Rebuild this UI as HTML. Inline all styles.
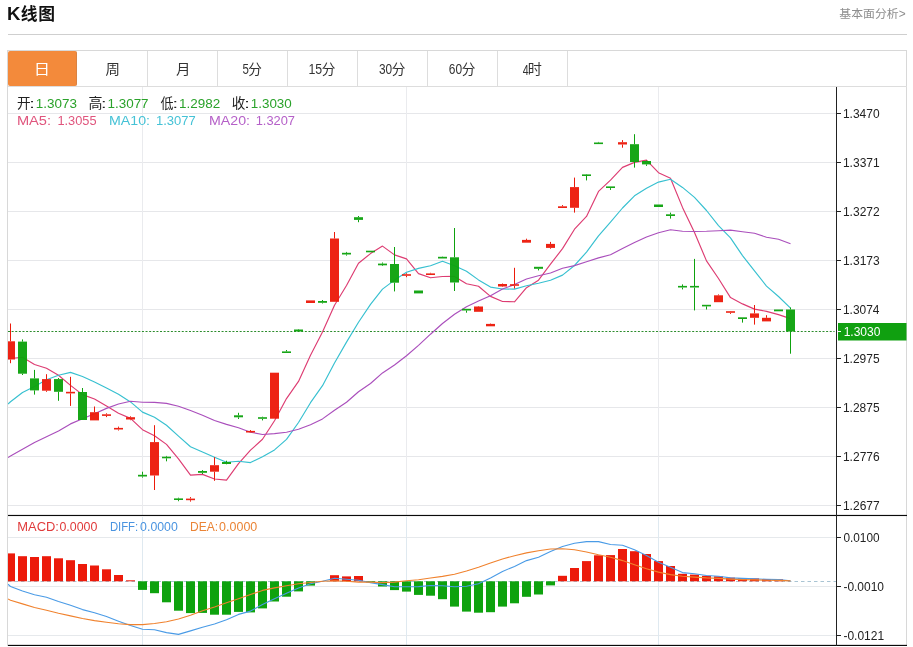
<!DOCTYPE html>
<html lang="zh-CN">
<head>
<meta charset="utf-8">
<title>K线图</title>
<style>
html,body{margin:0;padding:0;background:#fff;}
body{width:913px;height:647px;position:relative;overflow:hidden;font-family:"Liberation Sans","Noto Sans CJK SC",sans-serif;color:#222;}
.title{position:absolute;left:6.9px;top:1.1px;font-size:16.8px;line-height:26px;font-weight:bold;color:#111;letter-spacing:0.9px;white-space:nowrap;}
.title .k{font-size:18.6px;letter-spacing:0.3px;}
.more{position:absolute;right:7.3px;top:5.5px;font-size:11.9px;line-height:16px;color:#8e8e8e;}
.hr{position:absolute;left:8px;top:34px;width:899px;height:1px;background:#cfcfcf;}
.box{position:absolute;left:7px;top:50px;width:898px;height:595px;border:1px solid #d8d8d8;border-bottom:none;box-sizing:content-box;}
ul.tabs{list-style:none;margin:0;padding:0;position:absolute;left:8px;top:51px;height:35px;width:899px;}
ul.tabs li{float:left;width:69px;height:35px;border-right:1px solid #ddd;line-height:37px;text-align:center;font-size:14px;color:#333;}
ul.tabs li.on{background:#f38a3b;color:#fff;border-radius:2px;width:68px;border-right:1px solid #d98343;margin-right:1px;}
.tabline{position:absolute;left:8px;top:86px;width:899px;height:1px;background:#ddd;}
</style>
</head>
<body>
<div class="title"><span class="k">K</span>线图</div>
<div class="more">基本面分析&gt;</div>
<div class="hr"></div>
<div class="box"></div>
<ul class="tabs"><li class="on"></li><li></li><li></li><li></li><li></li><li></li><li></li><li></li></ul>
<div class="tabline"></div>
<svg width="913" height="647" viewBox="0 0 913 647" style="position:absolute;left:0;top:0" font-family="'Liberation Sans', 'Noto Sans CJK SC', sans-serif">
<defs><clipPath id="cp"><rect x="8" y="87" width="828" height="559"/></clipPath></defs>
<rect x="8" y="113" width="828" height="1" fill="#e6e7ea"/>
<rect x="8" y="162" width="828" height="1" fill="#e6e7ea"/>
<rect x="8" y="211" width="828" height="1" fill="#e6e7ea"/>
<rect x="8" y="260" width="828" height="1" fill="#e6e7ea"/>
<rect x="8" y="309" width="828" height="1" fill="#e6e7ea"/>
<rect x="8" y="358" width="828" height="1" fill="#e6e7ea"/>
<rect x="8" y="407" width="828" height="1" fill="#e6e7ea"/>
<rect x="8" y="456" width="828" height="1" fill="#e6e7ea"/>
<rect x="8" y="505" width="828" height="1" fill="#e6e7ea"/>
<rect x="8" y="537" width="828" height="1" fill="#e6e9ec"/>
<rect x="8" y="586" width="828" height="1" fill="#e6e9ec"/>
<rect x="8" y="635" width="828" height="1" fill="#e6e9ec"/>
<rect x="142" y="87" width="1" height="428" fill="#eaebee"/>
<rect x="142" y="517" width="1" height="128" fill="#dfe9f0"/>
<rect x="406" y="87" width="1" height="428" fill="#eaebee"/>
<rect x="406" y="517" width="1" height="128" fill="#dfe9f0"/>
<rect x="658" y="87" width="1" height="428" fill="#eaebee"/>
<rect x="658" y="517" width="1" height="128" fill="#dfe9f0"/>
<g clip-path="url(#cp)">
<line x1="8" y1="581.5" x2="836" y2="581.5" stroke="#a9c4d3" stroke-width="1" stroke-dasharray="3.5 3"/>
<rect x="6.0" y="553.4" width="9" height="27.9" fill="#ec1a0a"/>
<rect x="18.0" y="556.2" width="9" height="25.1" fill="#ec1a0a"/>
<rect x="30.0" y="557.0" width="9" height="24.3" fill="#ec1a0a"/>
<rect x="42.0" y="556.2" width="9" height="25.1" fill="#ec1a0a"/>
<rect x="54.0" y="558.3" width="9" height="23.0" fill="#ec1a0a"/>
<rect x="66.0" y="560.2" width="9" height="21.1" fill="#ec1a0a"/>
<rect x="78.0" y="564.0" width="9" height="17.3" fill="#ec1a0a"/>
<rect x="90.0" y="565.5" width="9" height="15.8" fill="#ec1a0a"/>
<rect x="102.0" y="569.3" width="9" height="12.0" fill="#ec1a0a"/>
<rect x="114.0" y="575.0" width="9" height="6.3" fill="#ec1a0a"/>
<rect x="126.0" y="580.3" width="9" height="1.0" fill="#ec1a0a"/>
<rect x="138.0" y="581.3" width="9" height="8.6" fill="#0ea20e"/>
<rect x="150.0" y="581.3" width="9" height="11.9" fill="#0ea20e"/>
<rect x="162.0" y="581.3" width="9" height="21.0" fill="#0ea20e"/>
<rect x="174.0" y="581.3" width="9" height="29.4" fill="#0ea20e"/>
<rect x="186.0" y="581.3" width="9" height="31.8" fill="#0ea20e"/>
<rect x="198.0" y="581.3" width="9" height="31.6" fill="#0ea20e"/>
<rect x="210.0" y="581.3" width="9" height="33.4" fill="#0ea20e"/>
<rect x="222.0" y="581.3" width="9" height="33.4" fill="#0ea20e"/>
<rect x="234.0" y="581.3" width="9" height="30.6" fill="#0ea20e"/>
<rect x="246.0" y="581.3" width="9" height="31.1" fill="#0ea20e"/>
<rect x="258.0" y="581.3" width="9" height="27.1" fill="#0ea20e"/>
<rect x="270.0" y="581.3" width="9" height="20.2" fill="#0ea20e"/>
<rect x="282.0" y="581.3" width="9" height="15.4" fill="#0ea20e"/>
<rect x="294.0" y="581.3" width="9" height="10.1" fill="#0ea20e"/>
<rect x="306.0" y="581.3" width="9" height="4.3" fill="#0ea20e"/>
<rect x="330.0" y="575.2" width="9" height="6.1" fill="#ec1a0a"/>
<rect x="342.0" y="576.4" width="9" height="4.9" fill="#ec1a0a"/>
<rect x="354.0" y="576.0" width="9" height="5.3" fill="#ec1a0a"/>
<rect x="366.0" y="581.3" width="9" height="1.0" fill="#0ea20e"/>
<rect x="378.0" y="581.3" width="9" height="5.2" fill="#0ea20e"/>
<rect x="390.0" y="581.3" width="9" height="8.8" fill="#0ea20e"/>
<rect x="402.0" y="581.3" width="9" height="10.3" fill="#0ea20e"/>
<rect x="414.0" y="581.3" width="9" height="13.6" fill="#0ea20e"/>
<rect x="426.0" y="581.3" width="9" height="14.4" fill="#0ea20e"/>
<rect x="438.0" y="581.3" width="9" height="17.9" fill="#0ea20e"/>
<rect x="450.0" y="581.3" width="9" height="25.3" fill="#0ea20e"/>
<rect x="462.0" y="581.3" width="9" height="30.3" fill="#0ea20e"/>
<rect x="474.0" y="581.3" width="9" height="31.4" fill="#0ea20e"/>
<rect x="486.0" y="581.3" width="9" height="30.9" fill="#0ea20e"/>
<rect x="498.0" y="581.3" width="9" height="25.3" fill="#0ea20e"/>
<rect x="510.0" y="581.3" width="9" height="22.0" fill="#0ea20e"/>
<rect x="522.0" y="581.3" width="9" height="15.5" fill="#0ea20e"/>
<rect x="534.0" y="581.3" width="9" height="13.2" fill="#0ea20e"/>
<rect x="546.0" y="581.3" width="9" height="4.1" fill="#0ea20e"/>
<rect x="558.0" y="575.8" width="9" height="5.5" fill="#ec1a0a"/>
<rect x="570.0" y="568.0" width="9" height="13.3" fill="#ec1a0a"/>
<rect x="582.0" y="561.1" width="9" height="20.2" fill="#ec1a0a"/>
<rect x="594.0" y="555.3" width="9" height="26.0" fill="#ec1a0a"/>
<rect x="606.0" y="555.1" width="9" height="26.2" fill="#ec1a0a"/>
<rect x="618.0" y="549.0" width="9" height="32.3" fill="#ec1a0a"/>
<rect x="630.0" y="551.2" width="9" height="30.1" fill="#ec1a0a"/>
<rect x="642.0" y="554.0" width="9" height="27.3" fill="#ec1a0a"/>
<rect x="654.0" y="561.1" width="9" height="20.2" fill="#ec1a0a"/>
<rect x="666.0" y="566.0" width="9" height="15.3" fill="#ec1a0a"/>
<rect x="678.0" y="573.8" width="9" height="7.5" fill="#ec1a0a"/>
<rect x="690.0" y="574.6" width="9" height="6.7" fill="#ec1a0a"/>
<rect x="702.0" y="575.8" width="9" height="5.5" fill="#ec1a0a"/>
<rect x="714.0" y="576.3" width="9" height="5.0" fill="#ec1a0a"/>
<rect x="726.0" y="577.6" width="9" height="3.7" fill="#ec1a0a"/>
<rect x="738.0" y="578.3" width="9" height="3.0" fill="#ec1a0a"/>
<rect x="750.0" y="578.4" width="9" height="2.9" fill="#ec1a0a"/>
<rect x="762.0" y="579.1" width="9" height="2.2" fill="#ec1a0a"/>
<rect x="774.0" y="579.3" width="9" height="2.0" fill="#ec1a0a"/>
<line x1="8" y1="331.5" x2="834.6" y2="331.5" stroke="#2c8c2c" stroke-width="1" stroke-dasharray="2 1.62"/>
<polyline fill="none" stroke="#dd3c72" stroke-width="1.15" stroke-linejoin="round" points="8.0,358.7 10.5,358.5 22.5,357.3 34.5,364.5 46.5,368.2 58.5,375.3 70.5,385.4 82.5,394.6 94.5,399.0 106.5,406.1 118.5,413.3 130.5,418.4 142.5,429.7 154.5,435.7 166.5,444.4 178.5,458.8 190.5,475.1 202.5,474.4 214.5,479.0 226.5,480.1 238.5,463.6 250.5,450.1 262.5,439.3 274.5,420.8 286.5,398.6 298.5,381.4 310.5,355.3 322.5,332.1 334.5,305.2 346.5,285.5 358.5,263.2 370.5,253.6 382.5,246.1 394.5,254.9 406.5,258.9 418.5,273.6 430.5,277.8 442.5,276.5 454.5,276.4 466.5,283.7 478.5,286.3 490.5,296.4 502.5,301.5 514.5,301.8 526.5,287.7 538.5,280.2 550.5,264.2 562.5,248.6 574.5,229.2 586.5,216.4 598.5,191.4 610.5,180.2 622.5,167.4 634.5,162.4 646.5,160.1 658.5,172.7 670.5,178.3 682.5,207.4 694.5,232.5 706.5,260.9 718.5,278.5 730.5,297.6 742.5,303.9 754.5,309.1 766.5,311.4 778.5,314.6 790.5,318.6"/>
<polyline fill="none" stroke="#37c0d0" stroke-width="1.15" stroke-linejoin="round" points="8.0,404.0 10.5,401.8 22.5,392.5 34.5,386.4 46.5,379.8 58.5,375.2 70.5,372.4 82.5,376.5 94.5,382.0 106.5,388.0 118.5,394.3 130.5,401.9 142.5,412.1 154.5,417.3 166.5,425.2 178.5,436.1 190.5,446.8 202.5,452.0 214.5,457.3 226.5,462.3 238.5,461.2 250.5,462.6 262.5,456.8 274.5,449.9 286.5,439.4 298.5,422.5 310.5,402.7 322.5,385.7 334.5,363.0 346.5,342.1 358.5,322.3 370.5,304.4 382.5,289.1 394.5,280.1 406.5,272.2 418.5,268.4 430.5,265.7 442.5,261.3 454.5,265.7 466.5,271.3 478.5,279.9 490.5,287.1 502.5,289.0 514.5,289.1 526.5,285.7 538.5,283.2 550.5,280.3 562.5,275.1 574.5,265.5 586.5,252.1 598.5,235.8 610.5,222.2 622.5,208.0 634.5,195.8 646.5,188.2 658.5,182.1 670.5,179.3 682.5,187.4 694.5,197.4 706.5,210.5 718.5,225.6 730.5,237.9 742.5,255.6 754.5,270.8 766.5,286.1 778.5,296.5 790.5,308.1"/>
<polyline fill="none" stroke="#aa4fbc" stroke-width="1.15" stroke-linejoin="round" points="8.0,457.6 10.5,456.0 22.5,449.3 34.5,442.5 46.5,436.8 58.5,431.0 70.5,423.9 82.5,418.7 94.5,413.7 106.5,408.4 118.5,404.0 130.5,401.3 142.5,402.2 154.5,402.4 166.5,403.4 178.5,406.3 190.5,410.5 202.5,415.2 214.5,420.5 226.5,424.4 238.5,427.7 250.5,432.2 262.5,434.5 274.5,433.6 286.5,432.3 298.5,429.3 310.5,424.7 322.5,418.9 334.5,410.2 346.5,402.2 358.5,391.8 370.5,383.5 382.5,372.9 394.5,365.0 406.5,355.8 418.5,345.4 430.5,334.2 442.5,323.5 454.5,314.3 466.5,306.7 478.5,301.1 490.5,295.8 502.5,289.0 514.5,284.6 526.5,279.0 538.5,275.8 550.5,273.0 562.5,268.2 574.5,265.6 586.5,261.7 598.5,257.9 610.5,254.7 622.5,248.5 634.5,242.5 646.5,237.0 658.5,232.7 670.5,229.8 682.5,231.2 694.5,231.5 706.5,231.3 718.5,230.7 730.5,230.1 742.5,231.8 754.5,233.3 766.5,237.2 778.5,239.3 790.5,243.7"/>
<rect x="10.0" y="323.5" width="1" height="17.8" fill="#ec1a0a"/>
<rect x="10.0" y="359.5" width="1" height="3.7" fill="#ec1a0a"/>
<rect x="6.0" y="341.3" width="9" height="18.2" fill="#ec1a0a" fill-opacity="0.96"/>
<rect x="22.0" y="339.4" width="1" height="2.2" fill="#0ea20e"/>
<rect x="22.0" y="373.7" width="1" height="1.3" fill="#0ea20e"/>
<rect x="18.0" y="341.6" width="9" height="32.1" fill="#0ea20e" fill-opacity="0.96"/>
<rect x="34.0" y="369.9" width="1" height="8.5" fill="#0ea20e"/>
<rect x="34.0" y="390.4" width="1" height="4.2" fill="#0ea20e"/>
<rect x="30.0" y="378.4" width="9" height="12.0" fill="#0ea20e" fill-opacity="0.96"/>
<rect x="46.0" y="374.2" width="1" height="4.9" fill="#ec1a0a"/>
<rect x="46.0" y="390.7" width="1" height="1.1" fill="#ec1a0a"/>
<rect x="42.0" y="379.1" width="9" height="11.6" fill="#ec1a0a" fill-opacity="0.96"/>
<rect x="58.0" y="378.0" width="1" height="1.1" fill="#0ea20e"/>
<rect x="58.0" y="391.8" width="1" height="9.0" fill="#0ea20e"/>
<rect x="54.0" y="379.1" width="9" height="12.7" fill="#0ea20e" fill-opacity="0.96"/>
<rect x="70.0" y="376.8" width="1" height="15.0" fill="#ec1a0a"/>
<rect x="70.0" y="393.4" width="1" height="12.5" fill="#ec1a0a"/>
<rect x="66.0" y="391.8" width="9" height="1.6" fill="#ec1a0a" fill-opacity="0.96"/>
<rect x="82.0" y="388.0" width="1" height="4.0" fill="#0ea20e"/>
<rect x="78.0" y="392.0" width="9" height="28.0" fill="#0ea20e" fill-opacity="0.96"/>
<rect x="94.0" y="406.5" width="1" height="5.7" fill="#ec1a0a"/>
<rect x="90.0" y="412.2" width="9" height="8.2" fill="#ec1a0a" fill-opacity="0.96"/>
<rect x="106.0" y="413.3" width="1" height="1.0" fill="#ec1a0a"/>
<rect x="106.0" y="415.9" width="1" height="1.2" fill="#ec1a0a"/>
<rect x="102.0" y="414.3" width="9" height="1.6" fill="#ec1a0a" fill-opacity="0.96"/>
<rect x="118.0" y="426.6" width="1" height="1.3" fill="#ec1a0a"/>
<rect x="118.0" y="429.6" width="1" height="0.9" fill="#ec1a0a"/>
<rect x="114.0" y="427.9" width="9" height="1.6" fill="#ec1a0a" fill-opacity="0.96"/>
<rect x="130.0" y="416.3" width="1" height="0.9" fill="#ec1a0a"/>
<rect x="130.0" y="419.5" width="1" height="0.7" fill="#ec1a0a"/>
<rect x="126.0" y="417.2" width="9" height="2.3" fill="#ec1a0a" fill-opacity="0.96"/>
<rect x="142.0" y="471.7" width="1" height="3.1" fill="#0ea20e"/>
<rect x="142.0" y="476.5" width="1" height="1.1" fill="#0ea20e"/>
<rect x="138.0" y="474.8" width="9" height="1.7" fill="#0ea20e" fill-opacity="0.96"/>
<rect x="154.0" y="425.2" width="1" height="16.9" fill="#ec1a0a"/>
<rect x="154.0" y="475.5" width="1" height="14.5" fill="#ec1a0a"/>
<rect x="150.0" y="442.1" width="9" height="33.4" fill="#ec1a0a" fill-opacity="0.96"/>
<rect x="166.0" y="455.9" width="1" height="0.8" fill="#0ea20e"/>
<rect x="166.0" y="458.3" width="1" height="3.0" fill="#0ea20e"/>
<rect x="162.0" y="456.7" width="9" height="1.6" fill="#0ea20e" fill-opacity="0.96"/>
<rect x="178.0" y="497.7" width="1" height="0.8" fill="#0ea20e"/>
<rect x="178.0" y="500.1" width="1" height="1.1" fill="#0ea20e"/>
<rect x="174.0" y="498.4" width="9" height="1.6" fill="#0ea20e" fill-opacity="0.96"/>
<rect x="190.0" y="497.1" width="1" height="1.4" fill="#ec1a0a"/>
<rect x="190.0" y="500.2" width="1" height="1.4" fill="#ec1a0a"/>
<rect x="186.0" y="498.6" width="9" height="1.6" fill="#ec1a0a" fill-opacity="0.96"/>
<rect x="202.0" y="470.1" width="1" height="0.9" fill="#0ea20e"/>
<rect x="202.0" y="472.8" width="1" height="1.2" fill="#0ea20e"/>
<rect x="198.0" y="471.0" width="9" height="1.8" fill="#0ea20e" fill-opacity="0.96"/>
<rect x="214.0" y="457.2" width="1" height="8.0" fill="#ec1a0a"/>
<rect x="214.0" y="471.7" width="1" height="9.1" fill="#ec1a0a"/>
<rect x="210.0" y="465.2" width="9" height="6.5" fill="#ec1a0a" fill-opacity="0.96"/>
<rect x="226.0" y="460.7" width="1" height="1.3" fill="#0ea20e"/>
<rect x="226.0" y="464.0" width="1" height="0.3" fill="#0ea20e"/>
<rect x="222.0" y="462.0" width="9" height="2.0" fill="#0ea20e" fill-opacity="0.96"/>
<rect x="238.0" y="412.8" width="1" height="2.5" fill="#0ea20e"/>
<rect x="238.0" y="417.3" width="1" height="1.7" fill="#0ea20e"/>
<rect x="234.0" y="415.3" width="9" height="2.0" fill="#0ea20e" fill-opacity="0.96"/>
<rect x="250.0" y="430.0" width="1" height="0.9" fill="#ec1a0a"/>
<rect x="246.0" y="430.9" width="9" height="1.6" fill="#ec1a0a" fill-opacity="0.96"/>
<rect x="262.0" y="416.7" width="1" height="0.6" fill="#0ea20e"/>
<rect x="262.0" y="418.9" width="1" height="1.5" fill="#0ea20e"/>
<rect x="258.0" y="417.2" width="9" height="1.6" fill="#0ea20e" fill-opacity="0.96"/>
<rect x="270.0" y="372.7" width="9" height="46.0" fill="#ec1a0a" fill-opacity="0.96"/>
<rect x="286.0" y="350.0" width="1" height="1.4" fill="#0ea20e"/>
<rect x="282.0" y="351.4" width="9" height="1.6" fill="#0ea20e" fill-opacity="0.96"/>
<rect x="298.0" y="329.0" width="1" height="0.5" fill="#0ea20e"/>
<rect x="298.0" y="331.5" width="1" height="0.5" fill="#0ea20e"/>
<rect x="294.0" y="329.5" width="9" height="2.0" fill="#0ea20e" fill-opacity="0.96"/>
<rect x="306.0" y="300.4" width="9" height="2.6" fill="#ec1a0a" fill-opacity="0.96"/>
<rect x="322.0" y="300.0" width="1" height="1.0" fill="#0ea20e"/>
<rect x="322.0" y="302.8" width="1" height="0.7" fill="#0ea20e"/>
<rect x="318.0" y="301.0" width="9" height="1.8" fill="#0ea20e" fill-opacity="0.96"/>
<rect x="334.0" y="232.0" width="1" height="6.5" fill="#ec1a0a"/>
<rect x="330.0" y="238.5" width="9" height="63.3" fill="#ec1a0a" fill-opacity="0.96"/>
<rect x="346.0" y="251.9" width="1" height="0.9" fill="#0ea20e"/>
<rect x="346.0" y="254.5" width="1" height="1.1" fill="#0ea20e"/>
<rect x="342.0" y="252.8" width="9" height="1.7" fill="#0ea20e" fill-opacity="0.96"/>
<rect x="358.0" y="216.0" width="1" height="1.2" fill="#0ea20e"/>
<rect x="358.0" y="219.9" width="1" height="2.3" fill="#0ea20e"/>
<rect x="354.0" y="217.2" width="9" height="2.7" fill="#0ea20e" fill-opacity="0.96"/>
<rect x="366.0" y="250.7" width="9" height="1.6" fill="#0ea20e" fill-opacity="0.96"/>
<rect x="382.0" y="262.5" width="1" height="1.1" fill="#0ea20e"/>
<rect x="382.0" y="265.3" width="1" height="0.7" fill="#0ea20e"/>
<rect x="378.0" y="263.6" width="9" height="1.7" fill="#0ea20e" fill-opacity="0.96"/>
<rect x="394.0" y="247.0" width="1" height="17.0" fill="#0ea20e"/>
<rect x="394.0" y="282.7" width="1" height="8.7" fill="#0ea20e"/>
<rect x="390.0" y="264.0" width="9" height="18.7" fill="#0ea20e" fill-opacity="0.96"/>
<rect x="406.0" y="273.3" width="1" height="0.9" fill="#ec1a0a"/>
<rect x="406.0" y="275.9" width="1" height="1.3" fill="#ec1a0a"/>
<rect x="402.0" y="274.2" width="9" height="1.6" fill="#ec1a0a" fill-opacity="0.96"/>
<rect x="414.0" y="290.5" width="9" height="2.9" fill="#0ea20e" fill-opacity="0.96"/>
<rect x="430.0" y="272.8" width="1" height="0.6" fill="#ec1a0a"/>
<rect x="426.0" y="273.4" width="9" height="1.6" fill="#ec1a0a" fill-opacity="0.96"/>
<rect x="442.0" y="256.5" width="1" height="0.3" fill="#0ea20e"/>
<rect x="438.0" y="256.8" width="9" height="1.7" fill="#0ea20e" fill-opacity="0.96"/>
<rect x="454.0" y="228.0" width="1" height="29.3" fill="#0ea20e"/>
<rect x="454.0" y="282.5" width="1" height="8.5" fill="#0ea20e"/>
<rect x="450.0" y="257.3" width="9" height="25.2" fill="#0ea20e" fill-opacity="0.96"/>
<rect x="466.0" y="310.5" width="1" height="2.2" fill="#0ea20e"/>
<rect x="462.0" y="308.8" width="9" height="1.7" fill="#0ea20e" fill-opacity="0.96"/>
<rect x="478.0" y="306.0" width="1" height="0.5" fill="#ec1a0a"/>
<rect x="474.0" y="306.5" width="9" height="5.3" fill="#ec1a0a" fill-opacity="0.96"/>
<rect x="490.0" y="323.5" width="1" height="0.4" fill="#ec1a0a"/>
<rect x="486.0" y="323.9" width="9" height="2.4" fill="#ec1a0a" fill-opacity="0.96"/>
<rect x="502.0" y="283.5" width="1" height="0.5" fill="#ec1a0a"/>
<rect x="502.0" y="286.5" width="1" height="0.5" fill="#ec1a0a"/>
<rect x="498.0" y="284.0" width="9" height="2.5" fill="#ec1a0a" fill-opacity="0.96"/>
<rect x="514.0" y="267.8" width="1" height="16.4" fill="#ec1a0a"/>
<rect x="514.0" y="285.9" width="1" height="2.6" fill="#ec1a0a"/>
<rect x="510.0" y="284.2" width="9" height="1.6" fill="#ec1a0a" fill-opacity="0.96"/>
<rect x="526.0" y="238.7" width="1" height="1.2" fill="#ec1a0a"/>
<rect x="522.0" y="239.9" width="9" height="2.8" fill="#ec1a0a" fill-opacity="0.96"/>
<rect x="538.0" y="268.8" width="1" height="1.6" fill="#0ea20e"/>
<rect x="534.0" y="266.8" width="9" height="2.0" fill="#0ea20e" fill-opacity="0.96"/>
<rect x="550.0" y="241.9" width="1" height="2.0" fill="#ec1a0a"/>
<rect x="550.0" y="247.9" width="1" height="0.8" fill="#ec1a0a"/>
<rect x="546.0" y="243.9" width="9" height="4.0" fill="#ec1a0a" fill-opacity="0.96"/>
<rect x="562.0" y="205.1" width="1" height="1.2" fill="#ec1a0a"/>
<rect x="558.0" y="206.3" width="9" height="1.7" fill="#ec1a0a" fill-opacity="0.96"/>
<rect x="574.0" y="177.6" width="1" height="9.5" fill="#ec1a0a"/>
<rect x="574.0" y="207.8" width="1" height="4.8" fill="#ec1a0a"/>
<rect x="570.0" y="187.1" width="9" height="20.7" fill="#ec1a0a" fill-opacity="0.96"/>
<rect x="586.0" y="174.0" width="1" height="0.4" fill="#0ea20e"/>
<rect x="586.0" y="176.0" width="1" height="4.4" fill="#0ea20e"/>
<rect x="582.0" y="174.4" width="9" height="1.6" fill="#0ea20e" fill-opacity="0.96"/>
<rect x="598.0" y="141.9" width="1" height="0.6" fill="#0ea20e"/>
<rect x="594.0" y="142.5" width="9" height="1.6" fill="#0ea20e" fill-opacity="0.96"/>
<rect x="610.0" y="188.1" width="1" height="1.8" fill="#0ea20e"/>
<rect x="606.0" y="186.4" width="9" height="1.6" fill="#0ea20e" fill-opacity="0.96"/>
<rect x="622.0" y="140.1" width="1" height="2.1" fill="#ec1a0a"/>
<rect x="622.0" y="144.5" width="1" height="3.2" fill="#ec1a0a"/>
<rect x="618.0" y="142.2" width="9" height="2.3" fill="#ec1a0a" fill-opacity="0.96"/>
<rect x="634.0" y="134.2" width="1" height="10.0" fill="#0ea20e"/>
<rect x="634.0" y="162.0" width="1" height="5.6" fill="#0ea20e"/>
<rect x="630.0" y="144.2" width="9" height="17.8" fill="#0ea20e" fill-opacity="0.96"/>
<rect x="646.0" y="160.5" width="1" height="0.5" fill="#0ea20e"/>
<rect x="646.0" y="164.4" width="1" height="1.5" fill="#0ea20e"/>
<rect x="642.0" y="161.0" width="9" height="3.4" fill="#0ea20e" fill-opacity="0.96"/>
<rect x="654.0" y="204.5" width="9" height="2.5" fill="#0ea20e" fill-opacity="0.96"/>
<rect x="670.0" y="212.6" width="1" height="1.7" fill="#0ea20e"/>
<rect x="670.0" y="216.0" width="1" height="2.6" fill="#0ea20e"/>
<rect x="666.0" y="214.3" width="9" height="1.7" fill="#0ea20e" fill-opacity="0.96"/>
<rect x="682.0" y="284.4" width="1" height="1.6" fill="#0ea20e"/>
<rect x="682.0" y="287.6" width="1" height="1.8" fill="#0ea20e"/>
<rect x="678.0" y="285.9" width="9" height="1.6" fill="#0ea20e" fill-opacity="0.96"/>
<rect x="694.0" y="258.9" width="1" height="27.1" fill="#0ea20e"/>
<rect x="694.0" y="287.6" width="1" height="22.8" fill="#0ea20e"/>
<rect x="690.0" y="285.9" width="9" height="1.6" fill="#0ea20e" fill-opacity="0.96"/>
<rect x="706.0" y="306.4" width="1" height="3.1" fill="#0ea20e"/>
<rect x="702.0" y="304.8" width="9" height="1.6" fill="#0ea20e" fill-opacity="0.96"/>
<rect x="718.0" y="294.4" width="1" height="0.9" fill="#ec1a0a"/>
<rect x="714.0" y="295.3" width="9" height="6.9" fill="#ec1a0a" fill-opacity="0.96"/>
<rect x="730.0" y="311.0" width="1" height="0.2" fill="#ec1a0a"/>
<rect x="730.0" y="312.9" width="1" height="1.0" fill="#ec1a0a"/>
<rect x="726.0" y="311.2" width="9" height="1.6" fill="#ec1a0a" fill-opacity="0.96"/>
<rect x="742.0" y="319.0" width="1" height="3.6" fill="#0ea20e"/>
<rect x="738.0" y="317.3" width="9" height="1.7" fill="#0ea20e" fill-opacity="0.96"/>
<rect x="754.0" y="305.0" width="1" height="8.4" fill="#ec1a0a"/>
<rect x="754.0" y="317.8" width="1" height="6.8" fill="#ec1a0a"/>
<rect x="750.0" y="313.4" width="9" height="4.4" fill="#ec1a0a" fill-opacity="0.96"/>
<rect x="766.0" y="315.2" width="1" height="2.6" fill="#ec1a0a"/>
<rect x="762.0" y="317.8" width="9" height="3.6" fill="#ec1a0a" fill-opacity="0.96"/>
<rect x="774.0" y="309.5" width="9" height="1.8" fill="#0ea20e" fill-opacity="0.96"/>
<rect x="790.0" y="307.5" width="1" height="2.0" fill="#0ea20e"/>
<rect x="790.0" y="331.5" width="1" height="22.2" fill="#0ea20e"/>
<rect x="786.0" y="309.5" width="9" height="22.0" fill="#0ea20e" fill-opacity="0.96"/>
<polyline fill="none" stroke="#4a9be6" stroke-width="1.1" stroke-linejoin="round" points="8.0,584.2 10.5,586.5 22.5,591.0 34.5,594.7 46.5,597.3 58.5,601.5 70.5,605.3 82.5,609.6 94.5,612.8 106.5,616.6 118.5,621.2 130.5,625.5 142.5,629.3 154.5,629.8 166.5,632.6 178.5,634.4 190.5,630.9 202.5,627.3 214.5,624.0 226.5,619.8 238.5,614.4 250.5,611.1 262.5,604.5 274.5,598.7 286.5,593.2 298.5,587.9 310.5,583.8 322.5,581.3 334.5,578.3 346.5,579.3 358.5,580.2 370.5,582.6 382.5,584.6 394.5,586.8 406.5,586.8 418.5,586.6 430.5,585.5 442.5,585.8 454.5,586.8 466.5,586.3 478.5,583.8 490.5,578.0 502.5,571.4 514.5,566.4 526.5,560.6 538.5,557.3 550.5,551.5 562.5,546.5 574.5,543.2 586.5,541.6 598.5,541.6 610.5,544.5 622.5,545.2 634.5,549.8 646.5,555.6 658.5,562.2 670.5,567.2 682.5,572.6 694.5,573.8 706.5,575.5 718.5,576.3 730.5,577.9 742.5,578.4 754.5,578.8 766.5,579.3 778.5,579.6 790.5,580.9"/>
<polyline fill="none" stroke="#f0822e" stroke-width="1.1" stroke-linejoin="round" points="8.0,599.0 10.5,600.3 22.5,603.9 34.5,607.5 46.5,610.2 58.5,613.2 70.5,615.9 82.5,618.5 94.5,620.6 106.5,622.3 118.5,623.8 130.5,624.6 142.5,624.6 154.5,623.5 166.5,621.8 178.5,619.0 190.5,615.2 202.5,610.7 214.5,606.9 226.5,602.8 238.5,598.7 250.5,594.5 262.5,590.4 274.5,587.9 286.5,585.8 298.5,583.8 310.5,582.5 322.5,581.3 334.5,580.8 346.5,581.3 358.5,582.1 370.5,582.1 382.5,582.6 394.5,582.1 406.5,580.8 418.5,579.7 430.5,578.0 442.5,576.4 454.5,574.2 466.5,571.0 478.5,567.3 490.5,563.1 502.5,559.0 514.5,555.7 526.5,552.9 538.5,550.7 550.5,549.0 562.5,548.7 574.5,549.8 586.5,552.0 598.5,554.8 610.5,557.3 622.5,560.6 634.5,564.7 646.5,568.8 658.5,572.1 670.5,574.6 682.5,576.3 694.5,577.1 706.5,577.9 718.5,578.4 730.5,579.1 742.5,579.6 754.5,579.9 766.5,580.2 778.5,580.4 790.5,580.9"/>
</g>
<rect x="8" y="514.9" width="899" height="1.15" fill="#0a0a0a"/>
<rect x="8" y="644.85" width="899" height="1.15" fill="#0a0a0a"/>
<rect x="836" y="87" width="1" height="559" fill="#222"/>
<rect x="836" y="113" width="5" height="1" fill="#222"/>
<text><tspan x="842.94" y="117.92" font-size="12.68" fill="#222" textLength="36.62" lengthAdjust="spacingAndGlyphs">1.3470</tspan></text>
<rect x="836" y="162" width="5" height="1" fill="#222"/>
<text><tspan x="842.94" y="166.92" font-size="12.68" fill="#222" textLength="36.74" lengthAdjust="spacingAndGlyphs">1.3371</tspan></text>
<rect x="836" y="211" width="5" height="1" fill="#222"/>
<text><tspan x="842.94" y="215.92" font-size="12.68" fill="#222" textLength="36.74" lengthAdjust="spacingAndGlyphs">1.3272</tspan></text>
<rect x="836" y="260" width="5" height="1" fill="#222"/>
<text><tspan x="842.94" y="264.92" font-size="12.68" fill="#222" textLength="36.74" lengthAdjust="spacingAndGlyphs">1.3173</tspan></text>
<rect x="836" y="309" width="5" height="1" fill="#222"/>
<text><tspan x="842.95" y="313.92" font-size="12.68" fill="#222" textLength="36.50" lengthAdjust="spacingAndGlyphs">1.3074</tspan></text>
<rect x="836" y="358" width="5" height="1" fill="#222"/>
<text><tspan x="842.94" y="362.92" font-size="12.68" fill="#222" textLength="36.62" lengthAdjust="spacingAndGlyphs">1.2975</tspan></text>
<rect x="836" y="407" width="5" height="1" fill="#222"/>
<text><tspan x="842.94" y="411.92" font-size="12.68" fill="#222" textLength="36.62" lengthAdjust="spacingAndGlyphs">1.2875</tspan></text>
<rect x="836" y="456" width="5" height="1" fill="#222"/>
<text><tspan x="842.94" y="460.92" font-size="12.68" fill="#222" textLength="36.74" lengthAdjust="spacingAndGlyphs">1.2776</tspan></text>
<rect x="836" y="505" width="5" height="1" fill="#222"/>
<text><tspan x="842.94" y="509.92" font-size="12.68" fill="#222" textLength="36.74" lengthAdjust="spacingAndGlyphs">1.2677</tspan></text>
<rect x="836" y="537" width="5" height="1" fill="#222"/>
<text><tspan x="843.43" y="541.92" font-size="12.68" fill="#222" textLength="36.13" lengthAdjust="spacingAndGlyphs">0.0100</tspan></text>
<rect x="836" y="586" width="5" height="1" fill="#222"/>
<text><tspan x="843.42" y="590.92" font-size="12.68" fill="#222" textLength="40.58" lengthAdjust="spacingAndGlyphs">-0.0010</tspan></text>
<rect x="836" y="635" width="5" height="1" fill="#222"/>
<text><tspan x="843.42" y="639.92" font-size="12.68" fill="#222" textLength="40.70" lengthAdjust="spacingAndGlyphs">-0.0121</tspan></text>
<rect x="838" y="323" width="68.5" height="17.5" fill="#10a010"/>
<rect x="838" y="331" width="3" height="1" fill="#fff"/>
<text><tspan x="843.64" y="335.77" font-size="13.10" fill="#fff" textLength="36.83" lengthAdjust="spacingAndGlyphs">1.3030</tspan></text>
<text><tspan x="17.02" y="107.70" font-size="13.70" fill="#222" textLength="13.67" lengthAdjust="spacingAndGlyphs">开</tspan><tspan x="29.30" y="107.80" font-size="13.20" fill="#222" textLength="5.56" lengthAdjust="spacingAndGlyphs">:</tspan><tspan x="35.82" y="107.66" font-size="13.66" fill="#2aa22a" textLength="41.13" lengthAdjust="spacingAndGlyphs">1.3073</tspan> <tspan x="88.51" y="107.70" font-size="13.70" fill="#222" textLength="13.98" lengthAdjust="spacingAndGlyphs">高</tspan><tspan x="100.95" y="107.80" font-size="13.20" fill="#222" textLength="5.56" lengthAdjust="spacingAndGlyphs">:</tspan><tspan x="107.47" y="107.66" font-size="13.66" fill="#2aa22a" textLength="41.13" lengthAdjust="spacingAndGlyphs">1.3077</tspan> <tspan x="160.61" y="107.70" font-size="13.70" fill="#222" textLength="13.09" lengthAdjust="spacingAndGlyphs">低</tspan><tspan x="172.60" y="107.80" font-size="13.20" fill="#222" textLength="5.56" lengthAdjust="spacingAndGlyphs">:</tspan><tspan x="179.12" y="107.66" font-size="13.66" fill="#2aa22a" textLength="41.13" lengthAdjust="spacingAndGlyphs">1.2982</tspan> <tspan x="231.83" y="107.70" font-size="13.70" fill="#222" textLength="13.67" lengthAdjust="spacingAndGlyphs">收</tspan><tspan x="244.25" y="107.80" font-size="13.20" fill="#222" textLength="5.56" lengthAdjust="spacingAndGlyphs">:</tspan><tspan x="250.78" y="107.66" font-size="13.66" fill="#2aa22a" textLength="40.99" lengthAdjust="spacingAndGlyphs">1.3030</tspan></text>
<text><tspan x="16.93" y="125.47" font-size="13.43" fill="#e0557d" textLength="34.15" lengthAdjust="spacingAndGlyphs">MA5:</tspan> <tspan x="57.38" y="125.47" font-size="13.24" fill="#e0557d" textLength="39.17" lengthAdjust="spacingAndGlyphs">1.3055</tspan> <tspan x="108.96" y="125.47" font-size="13.24" fill="#45c2d6" textLength="41.01" lengthAdjust="spacingAndGlyphs">MA10:</tspan> <tspan x="155.96" y="125.47" font-size="13.24" fill="#45c2d6" textLength="39.77" lengthAdjust="spacingAndGlyphs">1.3077</tspan> <tspan x="208.96" y="125.47" font-size="13.24" fill="#b560c8" textLength="41.01" lengthAdjust="spacingAndGlyphs">MA20:</tspan> <tspan x="255.67" y="125.47" font-size="13.24" fill="#b560c8" textLength="39.35" lengthAdjust="spacingAndGlyphs">1.3207</tspan></text>
<text><tspan x="17.27" y="530.97" font-size="13.10" fill="#e03a3a" textLength="41.62" lengthAdjust="spacingAndGlyphs">MACD:</tspan><tspan x="59.40" y="530.97" font-size="13.10" fill="#e03a3a" textLength="37.98" lengthAdjust="spacingAndGlyphs">0.0000</tspan> <tspan x="109.89" y="531.10" font-size="13.48" fill="#4a94e0" textLength="28.32" lengthAdjust="spacingAndGlyphs">DIFF:</tspan><tspan x="140.11" y="530.97" font-size="13.10" fill="#4a94e0" textLength="37.67" lengthAdjust="spacingAndGlyphs">0.0000</tspan> <tspan x="189.94" y="531.10" font-size="13.48" fill="#ea8436" textLength="28.10" lengthAdjust="spacingAndGlyphs">DEA:</tspan><tspan x="219.10" y="530.97" font-size="13.10" fill="#ea8436" textLength="38.18" lengthAdjust="spacingAndGlyphs">0.0000</tspan></text>
<text><tspan x="33.86" y="74.30" font-size="13.70" fill="#fff" textLength="16.31" lengthAdjust="spacingAndGlyphs">日</tspan></text>
<text><tspan x="105.42" y="74.30" font-size="13.70" fill="#333" textLength="14.52" lengthAdjust="spacingAndGlyphs">周</tspan></text>
<text><tspan x="175.97" y="74.30" font-size="13.70" fill="#333" textLength="14.43" lengthAdjust="spacingAndGlyphs">月</tspan></text>
<text><tspan x="242.39" y="74.35" font-size="14.57" fill="#333" textLength="6.39" lengthAdjust="spacingAndGlyphs">5</tspan><tspan x="248.27" y="74.30" font-size="13.70" fill="#333" textLength="13.63" lengthAdjust="spacingAndGlyphs">分</tspan></text>
<text><tspan x="308.46" y="74.35" font-size="14.57" fill="#333" textLength="13.71" lengthAdjust="spacingAndGlyphs">15</tspan><tspan x="321.67" y="74.30" font-size="13.70" fill="#333" textLength="13.63" lengthAdjust="spacingAndGlyphs">分</tspan></text>
<text><tspan x="378.98" y="74.36" font-size="14.37" fill="#333" textLength="13.18" lengthAdjust="spacingAndGlyphs">30</tspan><tspan x="391.67" y="74.30" font-size="13.70" fill="#333" textLength="13.63" lengthAdjust="spacingAndGlyphs">分</tspan></text>
<text><tspan x="448.85" y="74.36" font-size="14.37" fill="#333" textLength="13.30" lengthAdjust="spacingAndGlyphs">60</tspan><tspan x="461.67" y="74.30" font-size="13.70" fill="#333" textLength="13.63" lengthAdjust="spacingAndGlyphs">分</tspan></text>
<text><tspan x="522.64" y="74.65" font-size="15.00" fill="#333" textLength="5.89" lengthAdjust="spacingAndGlyphs">4</tspan><tspan x="527.82" y="74.30" font-size="13.70" fill="#333" textLength="14.09" lengthAdjust="spacingAndGlyphs">时</tspan></text>
</svg>
</body>
</html>
